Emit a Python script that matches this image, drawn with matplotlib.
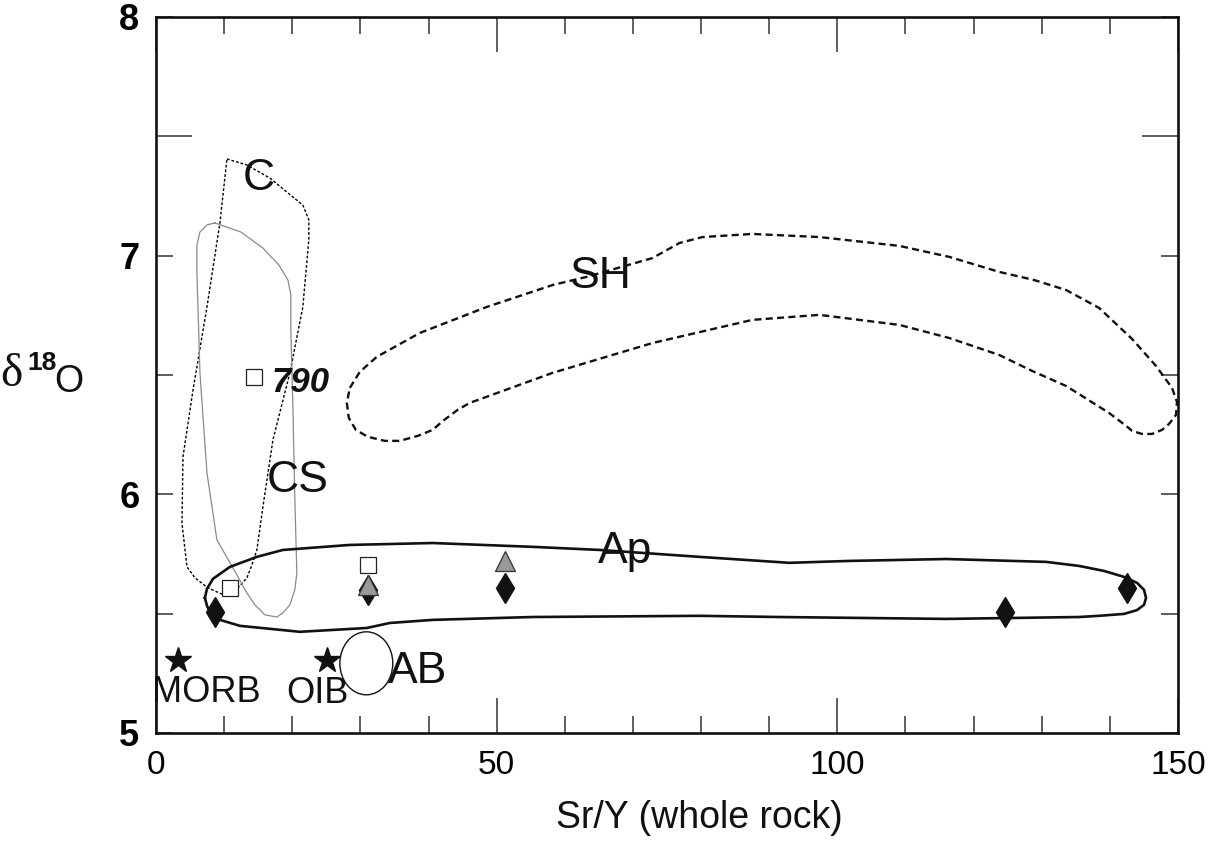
import numpy as np
import matplotlib
matplotlib.use('Agg')
import matplotlib.pyplot as plt
from matplotlib.patches import Ellipse

plt.rcParams['font.family'] = ['Liberation Sans', 'DejaVu Sans']

# field outlines (Sr/Y, d18O)
c_x = [10.41, 13.34, 16.72, 20.09, 21.55, 22.43, 22.43, 21.55, 19.65, 17.16, 15.69, 14.81,
       14.08, 13.34, 12.02, 9.68, 7.62, 5.72, 4.55, 3.81, 3.96, 5.43, 7.48, 9.38, 10.41]
c_y = [7.405, 7.380, 7.325, 7.246, 7.212, 7.150, 7.066, 6.785, 6.509, 6.228, 5.947, 5.767,
       5.704, 5.650, 5.608, 5.582, 5.608, 5.650, 5.696, 5.880, 6.157, 6.437, 6.785, 7.137, 7.405]

cs_x = [8.65, 12.46, 15.69, 18.04, 19.36, 19.79, 19.79, 20.09, 20.38, 20.67, 20.38, 19.65,
        18.62, 17.74, 15.98, 14.52, 13.34, 11.88, 8.94, 7.48, 6.45, 6.01, 6.01, 6.45, 7.48, 8.65]
cs_y = [7.137, 7.099, 7.032, 6.961, 6.898, 6.836, 6.689, 6.366, 5.977, 5.671, 5.600, 5.537,
        5.503, 5.486, 5.495, 5.537, 5.587, 5.662, 5.809, 6.090, 6.509, 6.928, 7.045, 7.099,
        7.129, 7.137]

sh_x = [28.45, 29.91, 32.40, 38.71, 48.53, 58.21, 63.20, 72.87, 76.83, 80.21, 87.54, 97.36,
        109.09, 116.42, 123.75, 128.89, 133.58, 138.42, 143.26, 146.77, 149.12, 149.85,
        149.71, 148.68, 147.65, 146.19, 144.72, 143.26, 142.38, 139.88, 133.58, 128.59,
        123.75, 116.42, 109.09, 97.36, 87.54, 72.87, 58.21, 46.04, 44.28, 42.08, 40.62,
        38.42, 35.78, 33.58, 31.09, 29.33, 28.30, 28.01, 28.45]
sh_y = [6.446, 6.513, 6.576, 6.676, 6.785, 6.877, 6.911, 6.990, 7.053, 7.078, 7.091, 7.078,
        7.041, 6.995, 6.932, 6.898, 6.856, 6.781, 6.651, 6.538, 6.446, 6.387,
        6.333, 6.295, 6.270, 6.253, 6.253, 6.266, 6.287, 6.341, 6.454, 6.517,
        6.584, 6.655, 6.710, 6.752, 6.731, 6.634, 6.509, 6.383, 6.354, 6.307, 6.270,
        6.245, 6.224, 6.224, 6.241, 6.270, 6.320, 6.383, 6.446]

ap_x = [7.18, 7.48, 8.36, 10.85, 14.81, 18.62, 28.45, 40.62, 55.28, 65.10, 79.77, 92.96,
        101.76, 115.98, 130.65, 135.48, 139.15, 142.08, 143.99, 145.01, 145.31, 145.01,
        143.99, 142.08, 138.42, 135.48, 115.98, 91.50, 79.77, 55.28, 40.62, 34.31, 30.94,
        21.11, 12.32, 9.38, 8.06, 7.48, 7.18]
ap_y = [5.566, 5.604, 5.646, 5.696, 5.738, 5.767, 5.788, 5.796, 5.780, 5.767, 5.738, 5.713,
        5.721, 5.729, 5.717, 5.700, 5.679, 5.654, 5.629, 5.600, 5.566, 5.537,
        5.515, 5.499, 5.491, 5.486, 5.478, 5.486, 5.491, 5.486, 5.474, 5.461, 5.440,
        5.424, 5.449, 5.474, 5.499, 5.533, 5.566]

ab_center = (30.87, 5.292)
ab_size = (7.77, 0.264)

# samples
star_x = [3.3, 25.15]
star_y = [5.305, 5.305]
diamond_x = [8.72, 31.1, 51.2, 124.6, 142.5]
diamond_y = [5.509, 5.60, 5.606, 5.507, 5.606]
square_x = [14.37, 10.92, 31.1]
square_y = [6.49, 5.608, 5.706]
triangle_x = [31.1, 51.2]
triangle_y = [5.62, 5.719]

fig = plt.figure(figsize=(12.11, 8.48), dpi=100)
ax = fig.add_axes([156 / 1211, 1 - 733 / 848, 1022 / 1211, 716 / 848])

ax.plot(c_x, c_y, color='black', lw=1.0, dashes=(2, 1.4))
ax.plot(cs_x, cs_y, color='#8a8a8a', lw=0.9)
ax.plot(sh_x, sh_y, color='#111111', lw=1.7, dashes=(3, 1.8))
ax.plot(ap_x, ap_y, color='#111111', lw=1.9)
ax.add_patch(Ellipse(ab_center, ab_size[0], ab_size[1], fill=False, ec='#111111', lw=1.0))

ax.plot(star_x, star_y, '*', color='#111111', ms=19, ls='none')
ax.plot(diamond_x, diamond_y, 'd', color='#111111', ms=15.5, ls='none')
ax.plot(triangle_x, triangle_y, '^', mfc='#999999', mec='#333333', mew=0.9, ms=14, ls='none')
ax.plot(square_x, square_y, 's', mfc='white', mec='#222222', mew=0.9, ms=11.5, ls='none')

lab = dict(fontsize=32, color='#111111', va='baseline', ha='left')
ax.text(12.76, 7.275, 'C', **lab)
ax.text(16.28, 6.010, 'CS', **lab)
ax.text(60.70, 6.865, 'SH', **lab)
ax.text(64.8, 5.713, 'Ap', **lab)
ax.text(34.02, 5.210, 'AB', **lab)
ax.text(7.4, 5.130, 'MORB', fontsize=26, color='#111111', va='baseline', ha='center')
ax.text(23.68, 5.126, 'OIB', fontsize=26, color='#111111', va='baseline', ha='center')
ax.text(17.0, 6.429, '790', fontsize=25, fontweight='bold', fontstyle='italic',
        color='#111111', va='baseline', ha='left')

ax.set_xlim(0, 150)
ax.set_ylim(5, 8)

ax.set_xticks([0, 50, 100, 150])
ax.set_xticks(np.arange(0, 151, 10), minor=True)
ax.tick_params(axis='x', which='major', direction='in', length=25, width=1.1,
               top=True, bottom=True, labelsize=24, pad=12, color='#333333')
ax.tick_params(axis='x', which='minor', direction='in', length=12.5, width=1.1,
               top=True, bottom=True, color='#333333')

yticks = [5, 5.5, 6, 6.5, 7, 7.5, 8]
ax.set_yticks(yticks)
ax.set_yticklabels(['5', '', '6', '', '7', '', '8'])
ax.tick_params(axis='y', which='major', direction='in', length=12.5, width=1.1,
               left=True, right=True, labelsize=26, pad=12, color='#333333')
for lbl in ax.get_yticklabels():
    lbl.set_fontweight('bold')
for t, v in zip(ax.yaxis.get_major_ticks(), yticks):
    if v == 7.5:
        t.tick1line.set_markersize(26)
        t.tick2line.set_markersize(26)

for sp in ax.spines.values():
    sp.set_linewidth(1.9)
    sp.set_color('#111111')

ax.set_xlabel('Sr/Y (whole rock)', fontsize=27, color='#111111')
ax.xaxis.set_label_coords(0.532, -0.094)

# y label: delta 18 O, horizontal
fig.text(0 / 1211, 1 - 386 / 848, 'δ', fontsize=34, family='Liberation Serif', color='#111111')
fig.text(27 / 1211, 1 - 370 / 848, '18', fontsize=19, fontweight='bold', color='#111111')
fig.text(54 / 1211, 1 - 392 / 848, 'O', fontsize=27, color='#111111')

fig.savefig('out.png', dpi=100)
